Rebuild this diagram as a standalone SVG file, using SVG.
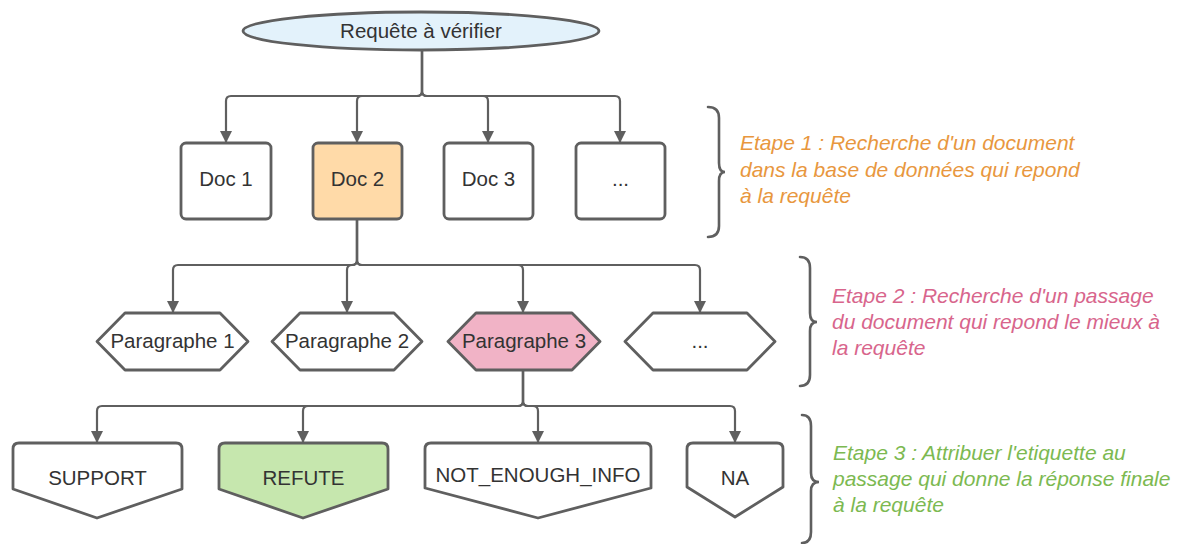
<svg xmlns="http://www.w3.org/2000/svg" width="1183" height="544" viewBox="0 0 1183 544">
<style>
.shape{stroke:#5f5f5f;stroke-width:2.8;stroke-linejoin:round}
.lbl{font-family:"Liberation Sans",Arial,sans-serif;font-size:20.5px;fill:#333;text-anchor:middle}
.conn{fill:none;stroke:#5f5f5f;stroke-width:2.2}
.brace{fill:none;stroke:#5f5f5f;stroke-width:2.6;stroke-linecap:round}
.step{font-family:"Liberation Sans",Arial,sans-serif;font-size:21px;font-style:italic}
</style>
<defs>
<marker id="ah" markerUnits="userSpaceOnUse" markerWidth="12" markerHeight="14" refX="12" refY="6" orient="auto">
<path d="M0,0 L12,6 L0,12 Z" fill="#5f5f5f"/>
</marker>
</defs>
<rect width="1183" height="544" fill="#ffffff"/>

<g id="connectors">
<path class="conn" marker-end="url(#ah)" d="M422,50 V91 Q422,96 417,96 H231 Q226,96 226,101 V143"/>
<path class="conn" marker-end="url(#ah)" d="M422,50 V91 Q422,96 417,96 H362 Q357,96 357,101 V143"/>
<path class="conn" marker-end="url(#ah)" d="M422,50 V91 Q422,96 427,96 H483 Q488,96 488,101 V143"/>
<path class="conn" marker-end="url(#ah)" d="M422,50 V91 Q422,96 427,96 H615 Q620,96 620,101 V143"/>

<path class="conn" marker-end="url(#ah)" d="M357,219 V260 Q357,265 352,265 H178 Q173,265 173,270 V313"/>
<path class="conn" marker-end="url(#ah)" d="M357,219 V260 Q357,265 352,265 H352 Q347,265 347,270 V313"/>
<path class="conn" marker-end="url(#ah)" d="M357,219 V260 Q357,265 362,265 H518 Q523,265 523,270 V313"/>
<path class="conn" marker-end="url(#ah)" d="M357,219 V260 Q357,265 362,265 H695 Q700,265 700,270 V313"/>

<path class="conn" marker-end="url(#ah)" d="M523,370 V401 Q523,406 518,406 H102 Q97,406 97,411 V443"/>
<path class="conn" marker-end="url(#ah)" d="M523,370 V401 Q523,406 518,406 H308 Q303,406 303,411 V443"/>
<path class="conn" marker-end="url(#ah)" d="M523,370 V401 Q523,406 528,406 H533 Q538,406 538,411 V443"/>
<path class="conn" marker-end="url(#ah)" d="M523,370 V401 Q523,406 528,406 H730 Q735,406 735,411 V443"/>
</g>

<g id="query">
<ellipse class="shape" cx="421" cy="31" rx="178" ry="19" fill="#E3F2FB"/>
<text class="lbl" x="421" y="38">Requête à vérifier</text>
</g>

<g id="doc1"><rect class="shape" x="181" y="143" width="90" height="76" rx="5" fill="#fff"/><text class="lbl" x="226" y="186">Doc 1</text></g>
<g id="doc2"><rect class="shape" x="313" y="143" width="89" height="76" rx="5" fill="#FFDAA8"/><text class="lbl" x="357.5" y="186">Doc 2</text></g>
<g id="doc3"><rect class="shape" x="444" y="143" width="89" height="76" rx="5" fill="#fff"/><text class="lbl" x="488.5" y="186">Doc 3</text></g>
<g id="doc4"><rect class="shape" x="576" y="143" width="89" height="76" rx="5" fill="#fff"/><text class="lbl" x="620.5" y="186">...</text></g>

<g id="para1"><polygon class="shape" fill="#fff" points="97,341.5 125,313 220,313 248,341.5 220,370 125,370"/><text class="lbl" x="172.5" y="348">Paragraphe 1</text></g>
<g id="para2"><polygon class="shape" fill="#fff" points="272,341.5 300,313 394,313 422,341.5 394,370 300,370"/><text class="lbl" x="347" y="348">Paragraphe 2</text></g>
<g id="para3"><polygon class="shape" fill="#F1B3C6" points="448,341.5 476,313 572,313 600,341.5 572,370 476,370"/><text class="lbl" x="524" y="348">Paragraphe 3</text></g>
<g id="para4"><polygon class="shape" fill="#fff" points="625,341.5 653,313 747,313 775,341.5 747,370 653,370"/><text class="lbl" x="700" y="348">...</text></g>

<g id="support"><path class="shape" fill="#fff" d="M13,449 Q13,443 19,443 H176 Q182,443 182,449 V489 L97,518 L13,489 Z"/><text class="lbl" x="97.5" y="485">SUPPORT</text></g>
<g id="refute"><path class="shape" fill="#C6E7AE" d="M219,449 Q219,443 225,443 H382 Q388,443 388,449 V489 L303,518 L219,489 Z"/><text class="lbl" x="303.5" y="485">REFUTE</text></g>
<g id="nei"><path class="shape" fill="#fff" d="M425,449 Q425,443 431,443 H645 Q651,443 651,449 V488 L538,518 L425,488 Z"/><text class="lbl" x="538" y="482">NOT_ENOUGH_INFO</text></g>
<g id="na"><path class="shape" fill="#fff" d="M687,449 Q687,443 693,443 H777 Q783,443 783,449 V487 L735,517 L687,487 Z"/><text class="lbl" x="735" y="485">NA</text></g>

<g id="step1">
<path class="brace" d="M708,107 Q719,107 719,118 V163 Q719,172 725,172 Q719,172 719,181 V226 Q719,237 708,237"/>
<text class="step" fill="#E8973E"><tspan x="740" y="150">Etape 1 : Recherche d'un document</tspan><tspan x="740" y="177">dans la base de données qui repond</tspan><tspan x="740" y="203">à la requête</tspan></text>
</g>
<g id="step2">
<path class="brace" d="M800,257 Q810,257 810,268 V313 Q810,322 817,322 Q810,322 810,331 V375 Q810,386 800,386"/>
<text class="step" fill="#D8658C"><tspan x="832" y="303">Etape 2 : Recherche d'un passage</tspan><tspan x="832" y="329">du document qui repond le mieux à</tspan><tspan x="832" y="355">la requête</tspan></text>
</g>
<g id="step3">
<path class="brace" d="M802,415 Q811,415 811,426 V473 Q811,482 819,482 Q811,482 811,491 V532 Q811,543 802,543"/>
<text class="step" fill="#7CB951"><tspan x="833" y="460">Etape 3 : Attribuer l'etiquette au</tspan><tspan x="833" y="486">passage qui donne la réponse finale</tspan><tspan x="833" y="512">à la requête</tspan></text>
</g>
</svg>
